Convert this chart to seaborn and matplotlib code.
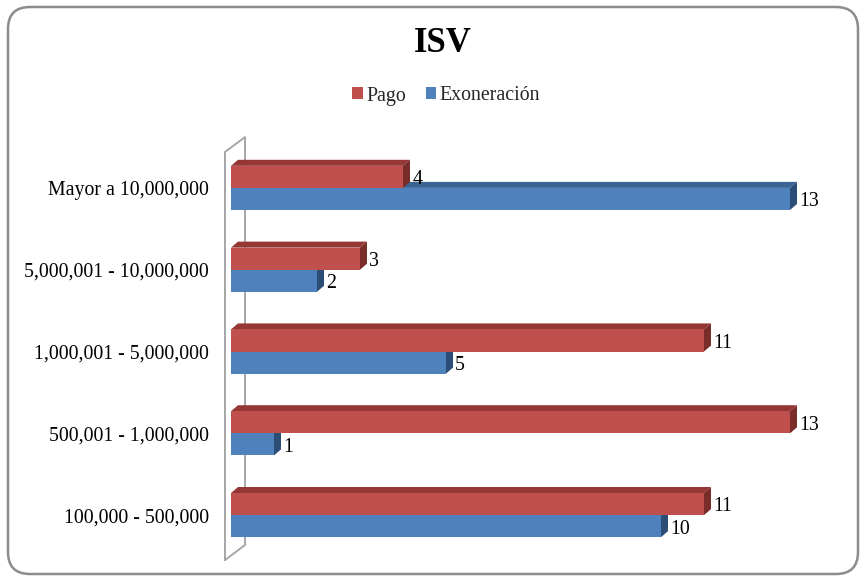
import matplotlib
matplotlib.use("Agg")
import matplotlib.pyplot as plt
from matplotlib.patches import Polygon, FancyBboxPatch, Patch
from matplotlib.lines import Line2D
import seaborn as sns
import pandas as pd

categories = ["Mayor a 10,000,000", "5,000,001 - 10,000,000", "1,000,001 - 5,000,000",
              "500,001 - 1,000,000", "100,000 - 500,000"]
series_names = ["Pago", "Exoneración"]
pago = [4, 3, 11, 13, 11]
exoneracion = [13, 2, 5, 1, 10]
title = "ISV"

front = {"Pago": "#C0504D", "Exoneración": "#4F81BD"}
top_c = {"Pago": "#953735", "Exoneración": "#3A6396"}
side_c = {"Pago": "#7A2C2A", "Exoneración": "#2C4D75"}

df = pd.DataFrame({
    "cat": categories * 2,
    "serie": [series_names[0]] * len(categories) + [series_names[1]] * len(categories),
    "val": pago + exoneracion,
})

sns.set_theme(style="white")
plt.rcParams["font.family"] = ["Liberation Serif", "DejaVu Serif"]

W, H = 867, 581
fig = plt.figure(figsize=(W / 100, H / 100), dpi=100)
ax = fig.add_axes([231 / W, (H - 556) / H, 602 / W, 409 / H])

sns.barplot(data=df, y="cat", x="val", hue="serie", order=categories,
            hue_order=series_names, palette=front, orient="h", width=0.54,
            saturation=1, ax=ax, legend=False, zorder=3)
ax.set_xlim(0, 14)
ax.set_ylim(len(categories) - 0.5, -0.5)

# 3D faces derived from the drawn bars
dx = 7 / 43.0
dy = 6 / 81.8
bars = [p for p in ax.patches]
n = len(categories)
for i, p in enumerate(bars):
    s = series_names[i // n]
    z = 2 if s == "Exoneración" else 4
    p.set_zorder(z + 0.5)
    p.set_edgecolor("none")
    x0 = p.get_x(); w = p.get_width()
    y0 = p.get_y(); h = p.get_height()
    ytop = min(y0, y0 + h); ybot = max(y0, y0 + h)
    x1 = x0 + w
    topface = Polygon([(x0, ytop), (x0 + dx, ytop - dy), (x1 + dx, ytop - dy), (x1, ytop)],
                      closed=True, facecolor=top_c[s], edgecolor="none", zorder=z)
    sideface = Polygon([(x1, ytop), (x1 + dx, ytop - dy), (x1 + dx, ybot - dy), (x1, ybot)],
                       closed=True, facecolor=side_c[s], edgecolor="none", zorder=z)
    ax.add_patch(topface)
    ax.add_patch(sideface)
    ax.text(x1 + dx + 0.05, (ytop + ybot) / 2 + 0.035, f"{int(w)}", ha="left", va="center",
            fontsize=14.3, color="#000000", zorder=6)

# side wall
wall_c = "#A6A6A6"
fx, bx = -0.14, 0.326
wall = [(fx, 4.55), (fx, -0.439), (bx, -0.622), (bx, 4.365), (fx, 4.55)]
ax.add_line(Line2D([q[0] for q in wall], [q[1] for q in wall], color=wall_c, lw=1.4,
                   clip_on=False, zorder=1))

for sp in ax.spines.values():
    sp.set_visible(False)
ax.set_xlabel("")
ax.set_ylabel("")
ax.set_xticks([])
ax.tick_params(axis="y", length=0, pad=16, labelsize=14.3, labelcolor="#000000")
ax.set_facecolor("none")

fig.text(443 / W, 1 - 44 / H, title, ha="center", va="center", fontsize=25,
         fontweight="bold", color="#000000")

handles = [Patch(facecolor=front[s], edgecolor="none", label=s) for s in series_names]
fig.legend(handles=handles, loc="center", bbox_to_anchor=(446 / W, 1 - 96 / H), ncol=2,
           frameon=False, fontsize=14.3, handlelength=0.55, handleheight=0.55,
           handletextpad=0.15, columnspacing=1.0)

border = FancyBboxPatch((8, 7), 850, 567, boxstyle="round,pad=0,rounding_size=22",
                        transform=None, facecolor="none", edgecolor="#8C8C8C", lw=1.8,
                        zorder=10)
fig.patches.append(border)

fig.savefig("out.png", dpi=100)
